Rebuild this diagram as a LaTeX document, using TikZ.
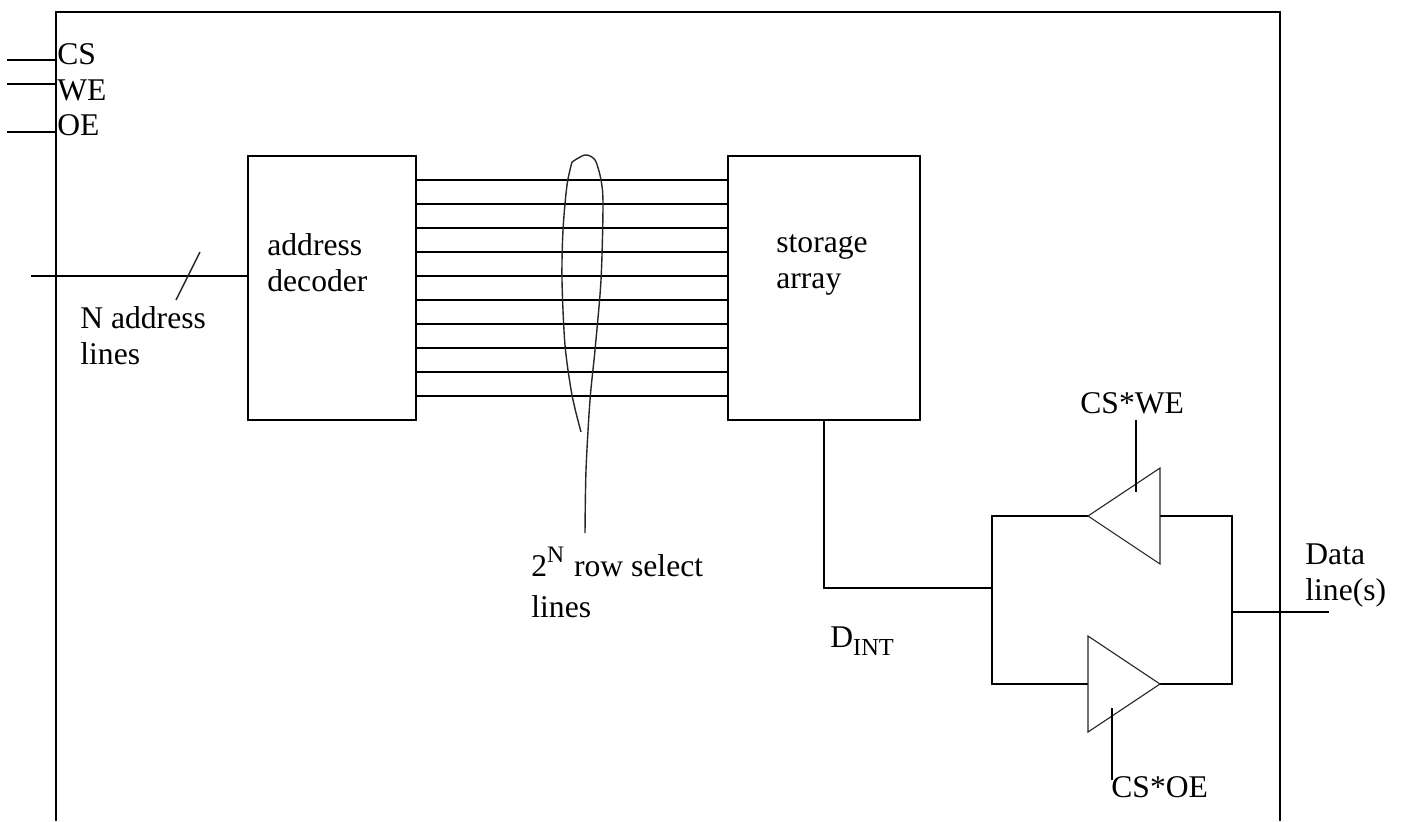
\documentclass[tikz,border=0pt]{standalone}
\usepackage{fontspec}
\setmainfont{Liberation Serif}
\usepackage{tikz}
\usetikzlibrary{positioning}
\tikzset{
  wire/.style={line width=1pt,black},
  buf/.style={line width=0.55pt,black!85},
  hand/.style={line width=0.7pt,black!85},
  blockbox/.style={draw=black,line width=1pt,inner sep=0pt},
  lbl/.style={inner sep=0pt,anchor=base west,align=left,
              font=\fontsize{15.8}{18}\selectfont},
}
\newcommand{\supN}{\raisebox{7pt}{\fontsize{11.8}{12}\selectfont N}\kern1pt}
\newcommand{\subINT}{\raisebox{-4pt}{\fontsize{12.2}{12}\selectfont INT}}
\begin{document}
\begin{tikzpicture}[x=0.5pt,y=-0.5pt]
  \useasboundingbox (0,0) rectangle (1401,821);
  \coordinate (fbl) at (56,821); \coordinate (ftl) at (56,12);
  \coordinate (ftr) at (1280,12); \coordinate (fbr) at (1280,821);
  \draw[wire] (fbl)--(ftl)--(ftr)--(fbr);
  \node[blockbox,minimum width=84pt,minimum height=132pt] (dec) at (332,288) {};
  \node[blockbox,minimum width=96pt,minimum height=132pt] (arr) at (824,288) {};
  \foreach \y in {180,204,...,396}
    \draw[wire] (dec.east |- 0,\y)--(arr.west |- 0,\y);
  \coordinate (csin) at (7,60); \coordinate (wein) at (7,84); \coordinate (oein) at (7,132);
  \draw[wire] (csin)--(ftl |- csin);
  \draw[wire] (wein)--(ftl |- wein);
  \draw[wire] (oein)--(ftl |- oein);
  \node[lbl] (cs) at (57,64) {CS};
  \node[lbl] (we) at (57,100) {WE};
  \node[lbl] (oe) at (57,135) {OE};
  \coordinate (ain) at (31,276);
  \draw[wire] (ain)--(dec.west |- ain);
  \coordinate (tika) at (176,300); \coordinate (tikb) at (200,252);
  \draw[hand] (tika)--(tikb);
  \node[lbl] (alines) at (80,364) {N address\\lines};
  \node[lbl] (dectxt) at (267,291) {address\\decoder};
  \node[lbl] (arrtxt) at (776,288) {storage\\array};
  \draw[hand] plot[smooth] coordinates {(581,432) (572,395) (565,345) (562,280) (563,230) (567,185) (572,162)};
  \draw[hand] plot[smooth] coordinates {(572,162) (585,155) (595,160) (601,180) (603,205) (601,280) (595,350) (590,400) (586,470) (585,533)};
  \node[lbl] (rowtxt) at (531,617) {2\supN{} row select\\[2.5pt]lines};
  \coordinate (dbus) at (992,588); \coordinate (dbend) at (arr.south |- dbus);
  \coordinate (ul) at (992,516); \coordinate (ur) at (1232,516);
  \coordinate (ll) at (992,684); \coordinate (lr) at (1232,684);
  \coordinate (dout) at (1329,612);
  \draw[wire] (arr.south)--(dbend)--(dbus);
  \coordinate (wetip) at (1088,516); \coordinate (webase) at (1160,516);
  \coordinate (oebase) at (1088,684); \coordinate (oetip) at (1160,684);
  \draw[wire] (wetip)--(ul)--(ll)--(oebase);
  \draw[wire] (webase)--(ur)--(lr)--(oetip);
  \draw[wire] (ur |- dout)--(dout);
  \draw[buf] (wetip)--(1160,468)--(1160,564)--cycle;
  \draw[buf] (oetip)--(1088,636)--(1088,732)--cycle;
  \coordinate (wea) at (1136,420); \coordinate (web) at (1136,492);
  \coordinate (oea) at (1112,708); \coordinate (oeb) at (1112,780);
  \draw[wire] (wea)--(web);
  \draw[wire] (oea)--(oeb);
  \node[lbl] (wetxt) at (1080,413) {CS*WE};
  \node[lbl] (oetxt) at (1111,797) {CS*OE};
  \node[lbl] (dint) at (830,647) {D\subINT};
  \node[lbl] (dtxt) at (1305,600) {Data\\line(s)};
\end{tikzpicture}
\end{document}
